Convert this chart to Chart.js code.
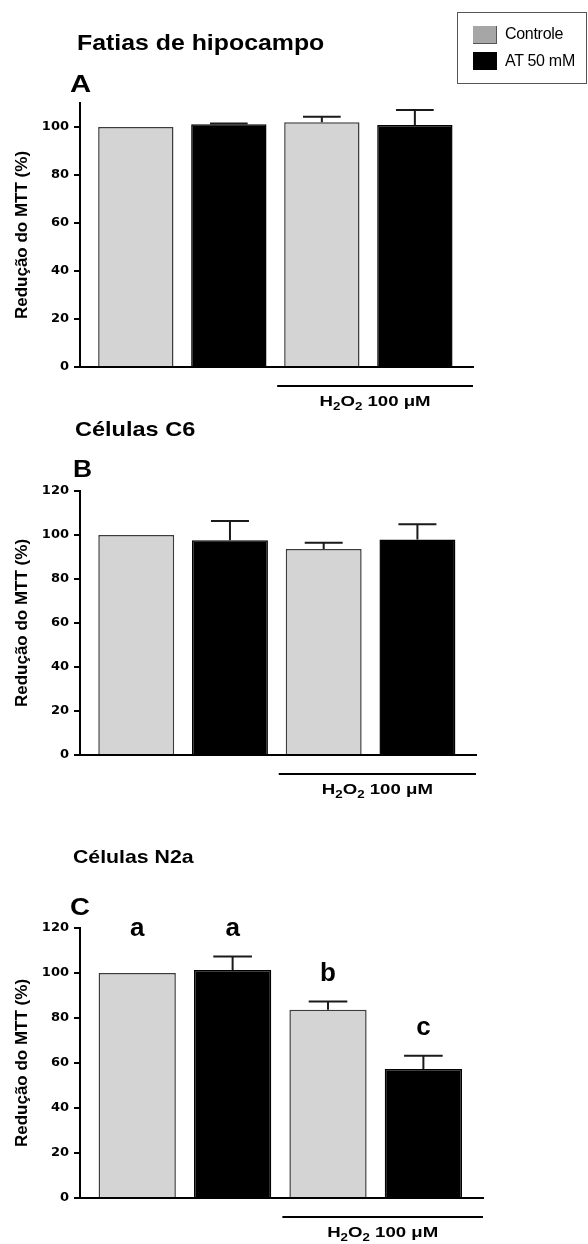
<!DOCTYPE html>
<html>
<head>
<meta charset="utf-8">
<script src="https://cdn.jsdelivr.net/npm/chart.js@4.4.1/dist/chart.umd.min.js"></script>
<style>
  body { margin: 0; background: #fff; }
  #page { position: relative; width: 588px; height: 1244px; overflow: hidden; font-family: "Liberation Sans", Arial, sans-serif; }
  canvas { position: absolute; left: 0; }
  .txt { position: absolute; white-space: nowrap; font-weight: bold; line-height: 1; transform-origin: 0 0; color: #000; }
  .legend-box { position: absolute; left: 457px; top: 12px; width: 130px; height: 72px; border: 1px solid #555; box-sizing: border-box; }
  .swatch { position: absolute; left: 473px; width: 24px; height: 18px; box-sizing: border-box; }
  .legend-txt { position: absolute; left: 505px; font-size: 16px; line-height: 1; white-space: nowrap; color: #000; letter-spacing: -0.3px; }
</style>
</head>
<body>
<div id="page">
  <canvas id="chartA" width="588" height="420" style="top:0px"></canvas>
  <canvas id="chartB" width="588" height="390" style="top:420px"></canvas>
  <canvas id="chartC" width="588" height="434" style="top:810px"></canvas>

  <div class="txt" style="left:77px;top:32px;font-size:22px;transform:scaleX(1.13)">Fatias de hipocampo</div>
  <div class="txt" style="left:70px;top:72px;font-size:24px;transform:scaleX(1.22)">A</div>
  <div class="txt" style="left:75px;top:418px;font-size:21px;transform:scaleX(1.12)">Células C6</div>
  <div class="txt" style="left:73px;top:457px;font-size:24px;transform:scaleX(1.1)">B</div>
  <div class="txt" style="left:73px;top:847px;font-size:19px;transform:scaleX(1.12)">Células N2a</div>
  <div class="txt" style="left:70px;top:895px;font-size:24px;transform:scaleX(1.15)">C</div>

  <div class="legend-box"></div>
  <div class="swatch" style="top:26px;background:#a6a6a6;border-right:1px solid #555;border-bottom:1px solid #555"></div>
  <div class="swatch" style="top:52px;background:#000"></div>
  <div class="legend-txt" style="top:26px">Controle</div>
  <div class="legend-txt" style="top:53px">AT 50 mM</div>
</div>
<script>
// groups of the four bars in every panel
const groups = ["Controle", "AT 50 mM", "Controle", "AT 50 mM"];
const withH2O2 = [false, false, true, true];

// A - fatias de hipocampo
const hipocampoMean = [100, 101.1, 102.0, 100.8];
const hipocampoSem = [0, 0.4, 2.3, 6.3];
// B - celulas C6
const c6Mean = [100, 97.6, 93.6, 97.9];
const c6Sem = [0, 8.8, 2.9, 7.0];
// C - celulas N2a
const n2aMean = [100, 101.3, 83.7, 57.3];
const n2aSem = [0, 6.0, 3.6, 5.9];
const n2aLetters = ["a", "a", "b", "c"];

const yTicksA = [0, 20, 40, 60, 80, 100];
const yTicksBC = [0, 20, 40, 60, 80, 100, 120];

const fills = { "Controle": "#d4d4d4", "AT 50 mM": "#000000" };
const edges = { "Controle": "#3c3c3c", "AT 50 mM": "#000000" };

function drawH2O2(ctx, cx, baseline) {
  const big = "bold 14px 'Liberation Sans', Arial, sans-serif";
  const small = "bold 10px 'Liberation Sans', Arial, sans-serif";
  const parts = [["H", big, 0], ["2", small, 4], ["O", big, 0], ["2", small, 4], [" 100 \u03bcM", big, 0]];
  let total = 0;
  parts.forEach(p => { ctx.font = p[1]; total += ctx.measureText(p[0]).width; });
  ctx.save();
  ctx.translate(cx, baseline);
  ctx.scale(1.33, 1);
  ctx.fillStyle = "#000";
  ctx.textBaseline = "alphabetic";
  ctx.textAlign = "left";
  let x = -total / 2;
  parts.forEach(p => {
    ctx.font = p[1];
    ctx.fillText(p[0], x, p[2]);
    x += ctx.measureText(p[0]).width;
  });
  ctx.restore();
}

const extras = {
  id: "extras",
  afterDatasetsDraw(chart, args, opts) {
    const ctx = chart.ctx;
    const y = chart.scales.y;
    const bars = chart.getDatasetMeta(0).data;
    ctx.save();
    ctx.strokeStyle = "#1a1a1a";
    ctx.lineWidth = 2;
    bars.forEach((bar, i) => {
      const e = opts.sem[i];
      if (!e) return;
      const top = y.getPixelForValue(opts.mean[i] + e);
      const half = bar.width / 4;
      ctx.beginPath();
      ctx.moveTo(bar.x, bar.y);
      ctx.lineTo(bar.x, top);
      ctx.moveTo(bar.x - half, top);
      ctx.lineTo(bar.x + half, top);
      ctx.stroke();
    });
    ctx.restore();
  },
  afterDraw(chart, args, opts) {
    const ctx = chart.ctx;
    const area = chart.chartArea;
    const y = chart.scales.y;
    const bars = chart.getDatasetMeta(0).data;

    // bracket under the H2O2 groups
    const idx = withH2O2.map((v, i) => v ? i : -1).filter(i => i >= 0);
    const first = bars[idx[0]];
    const x0 = first.x - first.width / 2 - 7;
    const x1 = area.right;
    const ly = area.bottom + 19;
    ctx.save();
    ctx.strokeStyle = "#000";
    ctx.lineWidth = 2;
    ctx.beginPath();
    ctx.moveTo(x0, ly);
    ctx.lineTo(x1, ly);
    ctx.stroke();
    ctx.restore();
    drawH2O2(ctx, (x0 + x1) / 2, ly + 20);

    // significance letters
    if (opts.letters) {
      const tops = {};
      opts.letters.forEach((l, i) => {
        const v = opts.mean[i] + opts.sem[i];
        tops[l] = Math.max(tops[l] || 0, v);
      });
      ctx.save();
      ctx.fillStyle = "#000";
      ctx.font = "bold 26px 'Liberation Sans', Arial, sans-serif";
      ctx.textAlign = "center";
      ctx.textBaseline = "alphabetic";
      opts.letters.forEach((l, i) => {
        ctx.fillText(l, bars[i].x, y.getPixelForValue(tops[l]) - 21);
      });
      ctx.restore();
    }
  }
};

function makePanel(id, mean, sem, letters, yMax, yTicks, pad) {
  return new Chart(document.getElementById(id), {
    type: "bar",
    data: {
      datasets: [{
        data: mean.map((v, i) => ({ x: i, y: v })),
        backgroundColor: groups.map(g => fills[g]),
        borderColor: groups.map(g => edges[g]),
        borderWidth: 1.5,
        barPercentage: 0.81,
        categoryPercentage: 1
      }]
    },
    options: {
      responsive: false,
      devicePixelRatio: 1,
      animation: false,
      events: [],
      layout: { padding: pad },
      plugins: {
        legend: { display: false },
        tooltip: { enabled: false },
        extras: { mean: mean, sem: sem, letters: letters }
      },
      scales: {
        x: {
          type: "linear",
          offset: false,
          min: -0.6,
          max: 3.625,
          afterBuildTicks: a => { a.ticks = groups.map((g, i) => ({ value: i })); },
          ticks: { display: false },
          grid: { display: false, offset: false },
          border: { display: true, color: "#000", width: 2, z: 1 },
          afterFit: s => { s.height = 0; }
        },
        y: {
          min: 0,
          max: yMax,
          afterBuildTicks: a => { a.ticks = yTicks.map(v => ({ value: v })); },
          ticks: {
            color: "#000",
            padding: 5,
            font: { family: "DejaVu Sans", weight: "bold", size: 13 }
          },
          grid: { drawOnChartArea: false, drawTicks: true, tickLength: 6, color: "#000", lineWidth: 2 },
          border: { color: "#000", width: 2, z: 1 },
          title: {
            display: true,
            text: "Redução do MTT (%)",
            color: "#000",
            font: { family: "Liberation Sans", weight: "bold", size: 17 },
            padding: { top: 12, bottom: 0 }
          },
          afterFit: s => { s.width = 80; }
        }
      }
    },
    plugins: [extras]
  });
}

makePanel("chartA", hipocampoMean, hipocampoSem, null, 110, yTicksA, { top: 103, bottom: 53, left: 0, right: 115 });
makePanel("chartB", c6Mean, c6Sem, null, 120, yTicksBC, { top: 71, bottom: 55, left: 0, right: 112 });
makePanel("chartC", n2aMean, n2aSem, n2aLetters, 120, yTicksBC, { top: 118, bottom: 46, left: 0, right: 105 });
</script>
</body>
</html>
